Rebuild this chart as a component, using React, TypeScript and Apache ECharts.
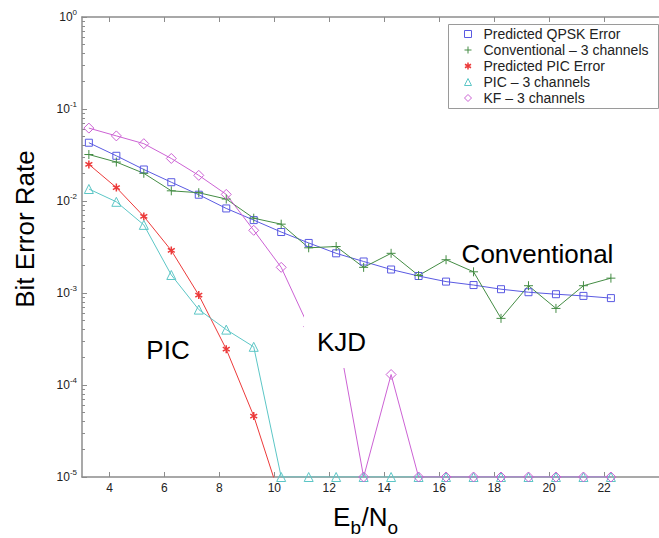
import React, { useEffect, useRef } from "react";
import * as echarts from "echarts";

const FONT = "'Liberation Sans', Arial, Helvetica, sans-serif";

// Eb/No sample positions (dB)
const ebNo = [3.25, 4.25, 5.25, 6.25, 7.25, 8.25, 9.25, 10.25, 11.25, 12.25, 13.25, 14.25, 15.25, 16.25, 17.25, 18.25, 19.25, 20.25, 21.25, 22.25];
const xTicks = [4, 6, 8, 10, 12, 14, 16, 18, 20, 22];

const predictedQpsk = [0.043, 0.031, 0.022, 0.016, 0.0117, 0.0083, 0.0062, 0.0046, 0.0035, 0.0027, 0.0022, 0.0018, 0.00153, 0.00133, 0.00122, 0.0011, 0.00102, 0.00097, 0.00093, 0.00088];
const conventional3 = [0.032, 0.0265, 0.02, 0.0129, 0.0123, 0.0105, 0.0065, 0.0056, 0.0031, 0.0032, 0.0019, 0.0027, 0.00155, 0.0023, 0.0017, 0.00053, 0.0012, 0.00068, 0.0012, 0.00145];
const predictedPic = [0.025, 0.014, 0.0068, 0.0029, 0.00095, 0.000245, 0.000046, 0.0000055];
const pic3 = [0.0135, 0.0098, 0.0055, 0.00157, 0.00066, 0.0004, 0.00026, 0.00001, 0.00001, 0.00001, 0.00001, 0.00001, 0.00001, 0.00001, 0.00001, 0.00001, 0.00001, 0.00001, 0.00001, 0.00001];
const kf3 = [0.062, 0.051, 0.042, 0.029, 0.019, 0.0118, 0.0048, 0.0019, 0.00043, 0.00045, 0.00001, 0.00013, 0.00001, 0.00001, 0.00001, 0.00001, 0.00001, 0.00001, 0.00001, 0.00001];

const names = ["Predicted QPSK Error", "Conventional – 3 channels", "Predicted PIC Error", "PIC – 3 channels", "KF – 3 channels"];
const colors = ["#5a5ae2", "#448c44", "#ec3a3a", "#5cc6c6", "#cc62d4"];
const PLUS = "path://M5,0L5,10M0,5L10,5";
const STAR = "path://M5,0L5,10M0.67,2.5L9.33,7.5M0.67,7.5L9.33,2.5";
const symbols = ["rect", PLUS, STAR, "triangle", "diamond"];
const sizes = [7, 9, 8, 9, 10];
const borderWidths = [1, 1, 1.5, 1, 1];
const seriesValues = [predictedQpsk, conventional3, predictedPic, pic3, kf3];

const AX = "#8c8c8c";

function txt(text: string, x: number, y: number, fontSize: number, align = "center", rotation = 0) {
  return {
    type: "text",
    x,
    y,
    rotation,
    z: 101,
    style: { text, fontSize, fontFamily: FONT, fill: "#000", align, verticalAlign: "middle" },
  };
}

export default function App() {
  const ref = useRef<HTMLDivElement>(null);
  useEffect(() => {
    const chart = echarts.init(ref.current!, null, { renderer: "svg" });
    const series = seriesValues.map((vals, si) => ({
      type: "line",
      name: names[si],
      data: vals.map((v, i) => [ebNo[i], v]),
      symbol: symbols[si],
      symbolSize: sizes[si],
      symbolKeepAspect: true,
      showSymbol: true,
      clip: true,
      lineStyle: { color: colors[si], width: 1 },
      itemStyle: { color: "rgba(0,0,0,0)", borderColor: colors[si], borderWidth: borderWidths[si] },
      emphasis: { disabled: true },
    }));
    const option = {
      animation: false,
      backgroundColor: "#fff",
      textStyle: { fontFamily: FONT },
      grid: { left: 82, top: 17, bottom: 61, right: -21, containLabel: false },
      legend: {
        orient: "vertical",
        left: 448,
        top: 24,
        padding: [2, 8, 2, 16],
        itemGap: 0,
        itemWidth: 7,
        itemHeight: 7,
        selectedMode: false,
        backgroundColor: "rgba(0,0,0,0)",
        borderWidth: 0,
        z: 6,
        textStyle: { fontSize: 14, lineHeight: 16, color: "#222", fontFamily: FONT, padding: [0, 0, 0, 7] },
        data: names.map((n, i) => ({
          name: n,
          icon: symbols[i],
          itemStyle: { color: "rgba(0,0,0,0)", borderColor: colors[i], borderWidth: borderWidths[i] },
        })),
      },
      xAxis: [
        {
          type: "value",
          min: 3,
          max: 24,
          position: "bottom",
          axisLine: { show: true, lineStyle: { color: AX, width: 1.5 } },
          axisTick: { show: true, inside: true, length: 5, customValues: xTicks, lineStyle: { color: AX } },
          axisLabel: { show: true, customValues: xTicks, fontSize: 12, color: "#222", margin: 5, fontFamily: FONT },
          splitLine: { show: false },
        },
        {
          type: "value",
          min: 3,
          max: 24,
          position: "top",
          axisLine: { show: true, lineStyle: { color: AX, width: 1.5 } },
          axisTick: { show: true, inside: true, length: 5, customValues: xTicks, lineStyle: { color: AX } },
          axisLabel: { show: false },
          splitLine: { show: false },
        },
      ],
      yAxis: [
        {
          type: "log",
          logBase: 10,
          min: 1e-5,
          max: 1,
          position: "left",
          axisLine: { show: true, lineStyle: { color: AX, width: 1.5 } },
          axisTick: { show: true, inside: true, length: 5, lineStyle: { color: AX } },
          minorTick: { show: true, splitNumber: 9, length: 3, lineStyle: { color: AX } },
          splitLine: { show: false },
          minorSplitLine: { show: false },
          axisLabel: {
            margin: 5,
            formatter: (v: number) => "{b|10}{s|" + Math.round(Math.log10(v)) + "}",
            rich: {
              b: { fontSize: 12, lineHeight: 18, color: "#222", fontFamily: FONT },
              s: { fontSize: 8, lineHeight: 10, verticalAlign: "top", color: "#222", fontFamily: FONT },
            },
          },
        },
      ],
      series,
      graphic: [
        {
          type: "rect",
          z: 5,
          shape: { x: 448.5, y: 24.5, width: 210, height: 84 },
          style: { fill: "#fff", stroke: "#9a9a9a", lineWidth: 1 },
        },
        txt("Bit Error Rate", 24.5, 229, 26, "center", Math.PI / 2),
        txt("PIC", 168, 350, 26),
        {
          type: "rect",
          z: 100,
          shape: { x: 304, y: 314, width: 68, height: 54 },
          style: { fill: "#fff" },
        },
        txt("KJD", 341.5, 342, 26),
        txt("Conventional", 537.5, 253.5, 26),
        // x-axis title: E_b / N_o
        txt("E", 333, 516.5, 26, "left"),
        txt("b", 350.5, 527.5, 19, "left"),
        txt("/N", 361.5, 516.5, 26, "left"),
        txt("o", 387.5, 527.5, 19, "left"),
      ],
    };
    chart.setOption(option as any);
    return () => chart.dispose();
  }, []);
  return (
    <div
      ref={ref}
      style={{ position: "fixed", left: 0, top: 0, width: 659, height: 538, background: "#fff" }}
    />
  );
}
